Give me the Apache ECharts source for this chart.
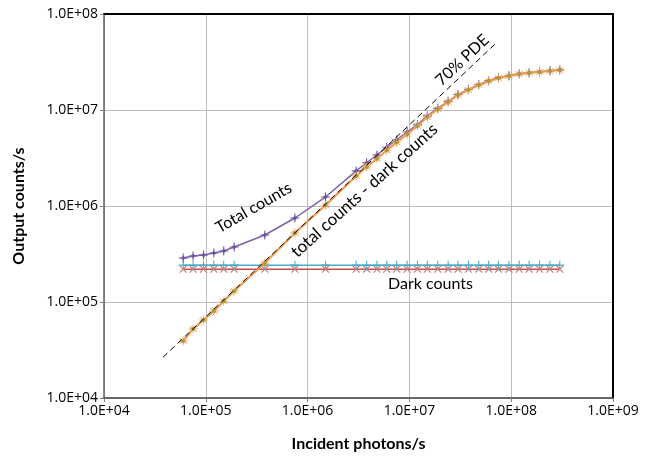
<!DOCTYPE html>
<html>
<head>
<meta charset="utf-8">
<script src="https://cdn.jsdelivr.net/npm/echarts@6/dist/echarts.min.js"></script>
<style>html,body{margin:0;padding:0;background:#fff;}#c{width:657px;height:461px;}</style>
</head>
<body>
<div id="c"></div>
<script>
// Incident photons/s (x values)
const incident = [6.0e4, 7.5e4, 9.5e4, 1.2e5, 1.5e5, 1.9e5, 3.8e5, 7.5e5, 1.5e6, 3.0e6, 3.8e6, 4.8e6, 6.0e6, 7.5e6, 9.5e6, 1.2e7, 1.5e7, 1.9e7, 2.4e7, 3.0e7, 3.8e7, 4.8e7, 6.0e7, 7.5e7, 9.5e7, 1.2e8, 1.5e8, 1.9e8, 2.4e8, 3.0e8];
// Total counts
const totalCounts = [2.87e5, 3.01e5, 3.09e5, 3.24e5, 3.40e5, 3.74e5, 4.99e5, 7.5e5, 1.24e6, 2.32e6, 2.82e6, 3.40e6, 4.10e6, 4.90e6, 5.90e6, 7.05e6, 8.69e6, 1.04e7, 1.23e7, 1.45e7, 1.64e7, 1.84e7, 2.02e7, 2.17e7, 2.28e7, 2.39e7, 2.45e7, 2.51e7, 2.57e7, 2.63e7];
// Total counts - dark counts
const corrected = [3.93e4, 5.23e4, 6.49e4, 8.06e4, 1.02e5, 1.30e5, 2.55e5, 5.23e5, 1.02e6, 2.05e6, 2.55e6, 3.10e6, 3.80e6, 4.60e6, 5.60e6, 6.81e6, 8.45e6, 1.02e7, 1.21e7, 1.43e7, 1.62e7, 1.82e7, 2.00e7, 2.15e7, 2.26e7, 2.37e7, 2.43e7, 2.49e7, 2.55e7, 2.61e7];
// Dark counts (two measurements)
const darkA = [2.42e5, 2.42e5, 2.42e5, 2.42e5, 2.42e5, 2.42e5, 2.42e5, 2.42e5, 2.42e5, 2.42e5, 2.42e5, 2.42e5, 2.42e5, 2.42e5, 2.42e5, 2.42e5, 2.42e5, 2.42e5, 2.42e5, 2.42e5, 2.42e5, 2.42e5, 2.42e5, 2.42e5, 2.42e5, 2.42e5, 2.42e5, 2.42e5, 2.42e5, 2.42e5];
const darkB = [2.2e5, 2.2e5, 2.2e5, 2.2e5, 2.2e5, 2.2e5, 2.2e5, 2.2e5, 2.2e5, 2.2e5, 2.2e5, 2.2e5, 2.2e5, 2.2e5, 2.2e5, 2.2e5, 2.2e5, 2.2e5, 2.2e5, 2.2e5, 2.2e5, 2.2e5, 2.2e5, 2.2e5, 2.2e5, 2.2e5, 2.2e5, 2.2e5, 2.2e5, 2.2e5];
// 70% PDE reference line endpoints
const pdeX = [3.8e4, 7.0e7];
const pdeY = [2.66e4, 4.9e7];
// Axis range
const xRange = [1e4, 1e9];
const yRange = [1e4, 1e8];
// Annotations: [text, x, y, rotation(deg), fontSize]
const notes = [
  ['70% PDE', 3.3e7, 3.3e7, 43, 16],
  ['Total counts', 2.95e5, 9.6e5, 30, 16],
  ['total counts - dark counts', 3.6e6, 1.45e6, 42, 17],
  ['Dark counts', 1.61e7, 1.54e5, 0, 16]
];

function pairs(xs, ys) { return xs.map((x, i) => [x, ys[i]]); }
function fmt(v) {
  const e = Math.round(Math.log10(v));
  const m = v / Math.pow(10, e);
  return m.toFixed(1) + 'E+' + (e < 10 ? '0' + e : e);
}
const FONT = 'Lato';
const TICKFONT = 'Open Sans';
const PLUS = 'path://M4.4,0 L5.6,0 L5.6,4.4 L10,4.4 L10,5.6 L5.6,5.6 L5.6,10 L4.4,10 L4.4,5.6 L0,5.6 L0,4.4 L4.4,4.4 Z';
const STAR = 'path://M4.5,0 L5.5,0 L5.5,3.7 L8.6,1.7 L9.2,2.6 L6.1,4.5 L10,4.5 L10,5.5 L6.1,5.5 L9.2,7.4 L8.6,8.3 L5.5,6.3 L5.5,10 L4.5,10 L4.5,6.3 L1.4,8.3 L0.8,7.4 L3.9,5.5 L0,5.5 L0,4.5 L3.9,4.5 L0.8,2.6 L1.4,1.7 L4.5,3.7 Z';

const chart = echarts.init(document.getElementById('c'), null, {renderer: 'canvas'});
const option = {
  animation: false,
  backgroundColor: '#ffffff',
  grid: {left: 104, right: 44, top: 14, bottom: 63, containLabel: false},
  xAxis: [{
    type: 'log', logBase: 10, min: xRange[0], max: xRange[1],
    name: 'Incident photons/s', nameLocation: 'middle', nameGap: 38,
    nameTextStyle: {fontFamily: FONT, fontSize: 16, fontWeight: 'bold', color: '#000'},
    axisLine: {lineStyle: {color: '#404040', width: 1.5}},
    axisTick: {show: true, length: 4, lineStyle: {color: '#808080'}},
    axisLabel: {formatter: fmt, fontFamily: TICKFONT, fontSize: 14, color: '#000', margin: 6},
    splitLine: {show: true, lineStyle: {color: '#BDBDBD', width: 1}},
    minorTick: {show: false}
  }, {
    type: 'log', logBase: 10, min: xRange[0], max: xRange[1], position: 'top',
    axisLine: {show: true, lineStyle: {color: '#000', width: 2}},
    axisTick: {show: false}, axisLabel: {show: false}, splitLine: {show: false}
  }],
  yAxis: [{
    type: 'log', logBase: 10, min: yRange[0], max: yRange[1],
    name: 'Output counts/s', nameLocation: 'middle', nameGap: 77, nameRotate: 90,
    nameTextStyle: {fontFamily: FONT, fontSize: 16, fontWeight: 'bold', color: '#000'},
    axisLine: {show: true, lineStyle: {color: '#606060', width: 1.5}},
    axisTick: {show: true, length: 4, lineStyle: {color: '#808080'}},
    axisLabel: {formatter: fmt, fontFamily: TICKFONT, fontSize: 14, color: '#000', margin: 6},
    splitLine: {show: true, lineStyle: {color: '#BDBDBD', width: 1}}
  }, {
    type: 'log', logBase: 10, min: yRange[0], max: yRange[1], position: 'right',
    axisLine: {show: true, lineStyle: {color: '#000', width: 2}},
    axisTick: {show: false}, axisLabel: {show: false}, splitLine: {show: false}
  }],
  series: [
    {
      name: 'Dark counts B', type: 'line', data: pairs(incident, darkB),
      symbol: PLUS, symbolRotate: 45, symbolSize: 10,
      lineStyle: {color: '#C0504D', width: 1.5}, itemStyle: {color: '#D07A78'}, z: 2
    },
    {
      name: 'Dark counts A', type: 'line', data: pairs(incident, darkA),
      symbol: PLUS, symbolSize: 9,
      lineStyle: {color: '#4BACC6', width: 1.5}, itemStyle: {color: '#4BACC6'}, z: 3
    },
    {
      name: 'Total counts', type: 'line', data: pairs(incident, totalCounts),
      symbol: PLUS, symbolSize: 9,
      lineStyle: {color: '#7E62A5', width: 1.5}, itemStyle: {color: '#6A5AAE'}, z: 4
    },
    {
      name: 'Total counts dots', type: 'scatter', data: pairs(incident, totalCounts),
      symbol: 'diamond', symbolSize: 5,
      itemStyle: {color: '#6F4E9A'}, z: 4
    },
    {
      name: 'Total - dark', type: 'line', data: pairs(incident, corrected),
      symbol: STAR, symbolSize: 9,
      lineStyle: {color: '#F79646', width: 2}, itemStyle: {color: '#F3A45C'}, z: 5
    },
    {
      name: 'Total - dark markers', type: 'scatter', data: pairs(incident, corrected),
      symbol: 'diamond', symbolSize: 5,
      itemStyle: {color: '#8E9B3A'}, z: 6
    },
    {
      name: '70% PDE', type: 'line', data: pairs(pdeX, pdeY), symbol: 'none',
      lineStyle: {color: '#000', width: 1, type: [6, 4]}, z: 7
    }
  ]
};
chart.setOption(option);

const g = notes.map(n => {
  const p = chart.convertToPixel({xAxisIndex: 0, yAxisIndex: 0}, [n[1], n[2]]);
  return {
    type: 'text', x: p[0], y: p[1], rotation: n[3] * Math.PI / 180,
    style: {text: n[0], fontFamily: FONT, fontSize: n[4], fill: '#000', align: 'center', verticalAlign: 'middle'},
    z: 100
  };
});
chart.setOption({graphic: g});
</script>
</body>
</html>
